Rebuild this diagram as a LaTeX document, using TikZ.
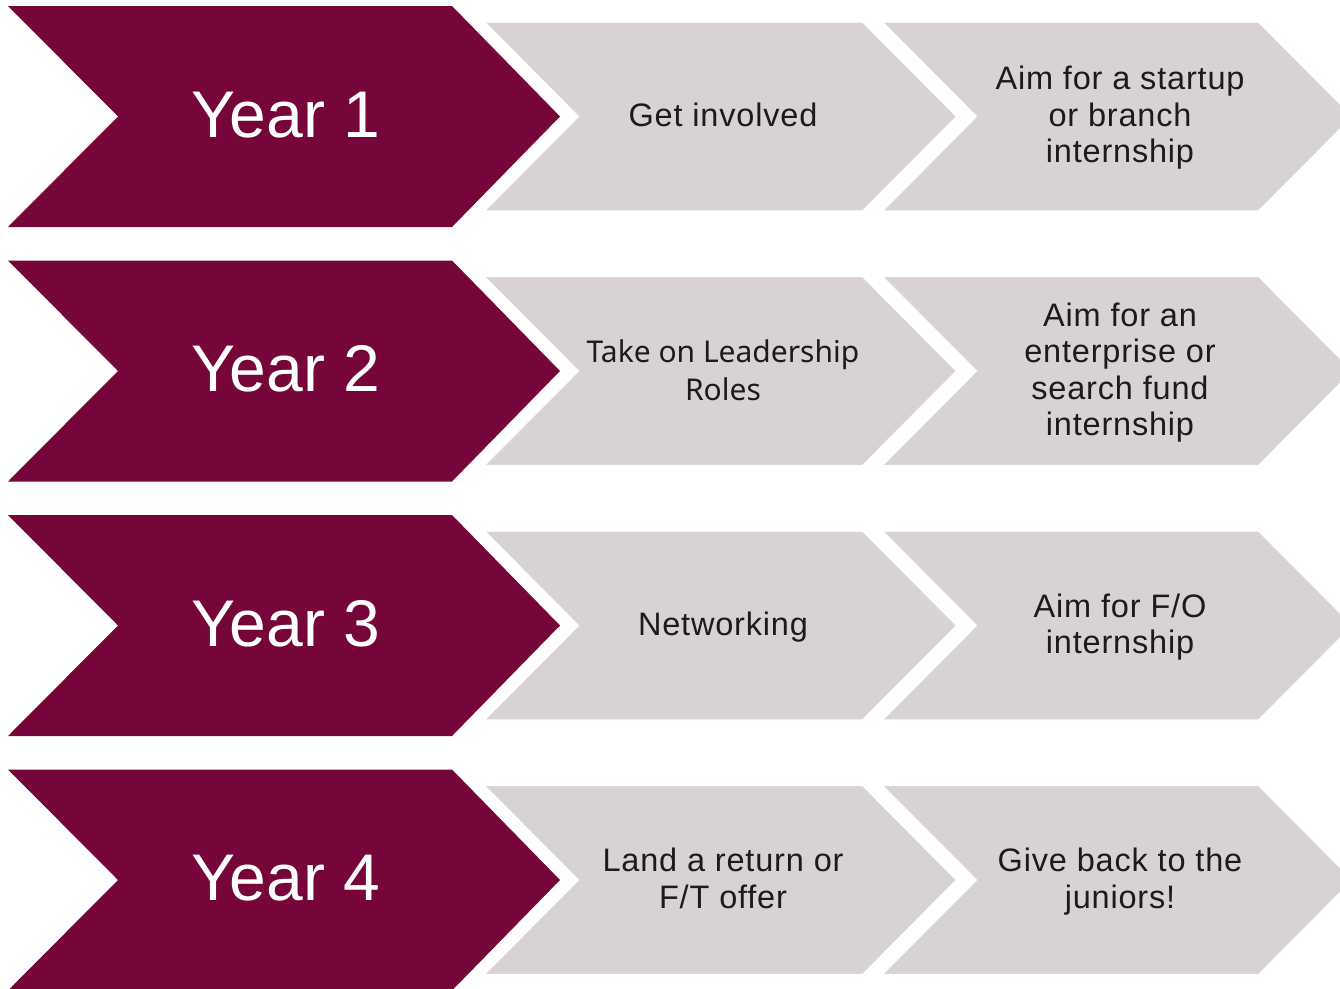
\documentclass[tikz,border=0pt]{standalone}
\usepackage{fontspec}
\setmainfont{Liberation Sans}
\newfontfamily\stepfont[LetterSpace=2.5]{Liberation Sans}
\newfontfamily\altfont{Noto Sans}
\definecolor{maroon}{HTML}{760539}
\definecolor{greyfill}{HTML}{D9D2D3}
\definecolor{greyedge}{HTML}{DDD7D8}
\definecolor{txt}{HTML}{1E1A1B}
\begin{document}
\begin{tikzpicture}[x=1pt,y=-1pt,
  yearshape/.style={fill=maroon},
  stepshape/.style={fill=greyfill,draw=greyedge,line width=0.8pt},
  yeartext/.style={text=white,font=\fontsize{66}{70}\selectfont,anchor=base,inner sep=0pt},
  steptext/.style={text=txt,font=\stepfont\fontsize{32.5}{36.5}\selectfont,align=center,inner sep=0pt},
  alttext/.style={text=txt,font=\altfont\fontsize{30}{38}\selectfont,align=center,inner sep=0pt}]
\useasboundingbox (0,0) rectangle (1340,988);
\clip (0,0) rectangle (1340,988);
\foreach \i/\a/\b in {1/{Get involved}/{Aim for a startup\\or branch\\internship},
                      2/{Take on Leadership\\Roles}/{Aim for an\\enterprise or\\search fund\\internship},
                      3/{Networking}/{Aim for F/O\\internship},
                      4/{Land a return or\\F/T offer}/{Give back to the\\juniors!}} {
  \pgfmathsetmacro\t{6+254.5*(\i-1)}
  \pgfmathsetmacro\m{\t+110.5}
  \pgfmathsetmacro\g{\t+17}
  \pgfmathsetmacro\h{\t+204}
  \fill[yearshape] (8,\t) -- (452,\t) -- (560,\m) -- (452,{\t+221}) -- (8,{\t+221}) -- (118,\m) -- cycle;
  \filldraw[stepshape] (487,\g) -- (862,\g) -- (955,\m) -- (862,\h) -- (487,\h) -- (580,\m) -- cycle;
  \filldraw[stepshape] (885,\g) -- (1258,\g) -- (1351,\m) -- (1258,\h) -- (885,\h) -- (978,\m) -- cycle;
  \node[yeartext] (y\i) at (286,{\t+131}) {Year \i};
  \ifnum\i=2
    \node[alttext] (a\i) at (723,{\m+2.5}) {\strut\a\strut};
  \else
    \node[steptext] (a\i) at (723,{\m+2.5}) {\strut\a\strut};
  \fi
  \node[steptext] (b\i) at (1120,{\m+2.5}) {\strut\b\strut};
}
\end{tikzpicture}
\end{document}
